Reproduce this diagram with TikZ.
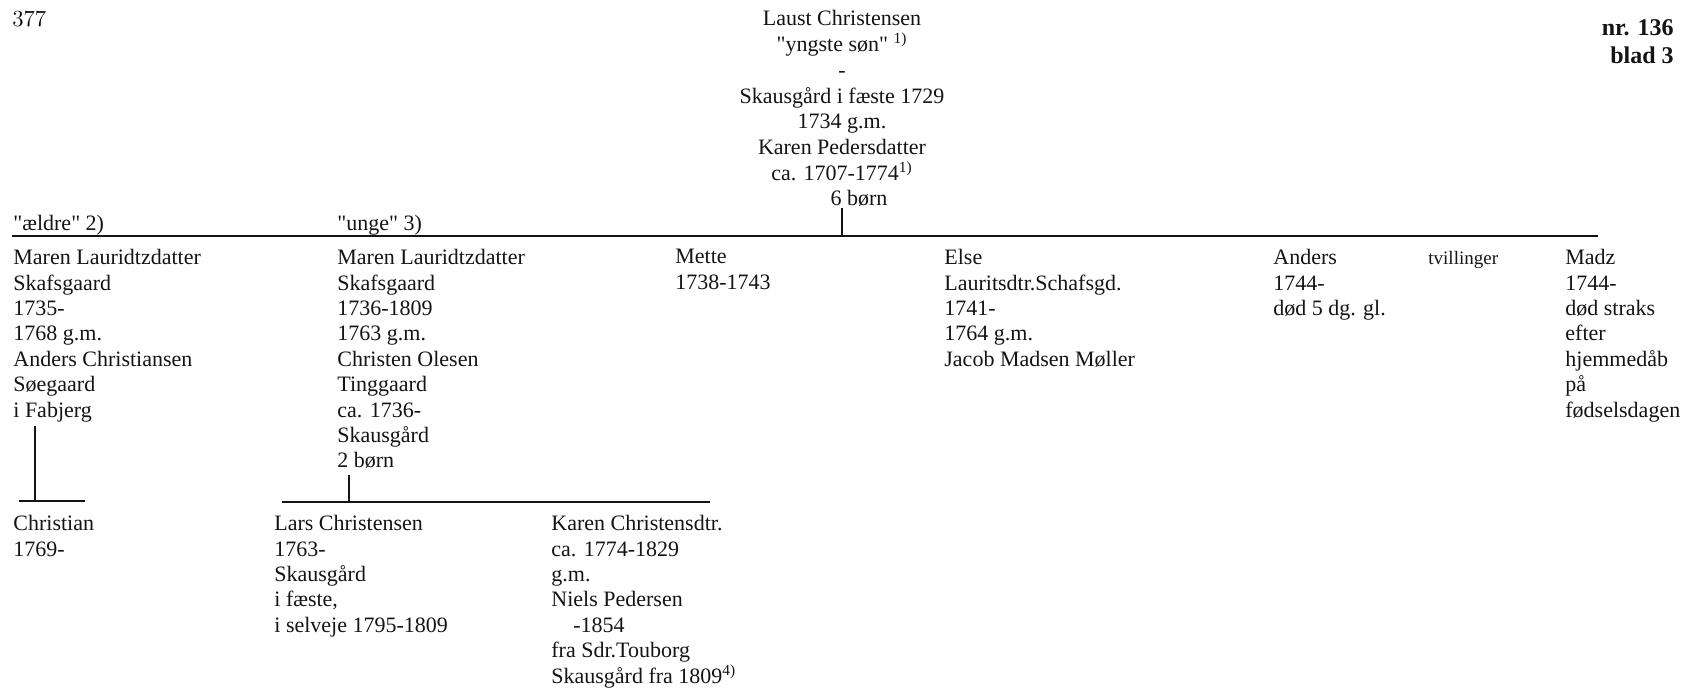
\documentclass[tikz,border=0pt]{standalone}
\usepackage{fontspec}
\usepackage{tikz}
\usetikzlibrary{calc,positioning}
\newfontfamily\garfont{Liberation Serif}
\definecolor{Ink}{HTML}{141414}
\tikzset{person/.style={anchor=north west,align=left,inner sep=0pt,text=Ink,font=\garfont\fontsize{11}{12.7}\selectfont},parents/.style={person,anchor=north,align=center,font=\garfont\fontsize{11}{12.9}\selectfont},bar/.style={draw=Ink,line width=.8pt},stemline/.style={draw=Ink,line width=.7pt}}

\begin{document}
\begin{tikzpicture}[x=.5pt,y=-.5pt]
        \useasboundingbox(0,0)rectangle(1681,688);
        \node[anchor=west,inner sep=0pt,font=\fontsize{11.5}{13}\selectfont](page)at(12,19){377};
        \node[person,anchor=north east,align=right,font=\garfont\bfseries\fontsize{12}{14.3}\selectfont](sheet)at(1674,19){nr. 136\\blad 3};
        \node[parents](laust)at(842,10){Laust Christensen\\"yngste søn" \textsuperscript{1)}\\-\\Skausgård i fæste 1729\\1734 g.m.\\Karen Pedersdatter\\ca. 1707-1774\textsuperscript{1)}};
        \node[person,anchor=center](count)at(859,198){6 børn};
        \coordinate(barw)at(12,236);
        \coordinate(bare)at(1598,236);
        \draw[bar](barw)--(bare);
        \draw[stemline]([yshift=-1pt]laust.south |- count.south)--(laust.south |- barw);
        \node[person](aeldre)at(13,215){"ældre" 2)};
        \node[person](unge)at(337,215){"unge" 3)};
        \node[person](maren1)at(13,249){Maren Lauridtzdatter\\Skafsgaard\\1735-\\1768 g.m.\\Anders Christiansen\\Søegaard\\i Fabjerg};
        \node[person](maren2)at(337,249){Maren Lauridtzdatter\\Skafsgaard\\1736-1809\\1763 g.m.\\Christen Olesen\\Tinggaard\\ca. 1736-\\Skausgård\\2 børn};
        \node[person](mette)at(675,249){Mette\\1738-1743};
        \node[person](else)at(944,249){Else\\Lauritsdtr.Schafsgd.\\1741-\\1764 g.m.\\Jacob Madsen Møller};
        \node[person](anders)at(1273,249){Anders\\1744-\\død 5 dg. gl.};
        \node[person,font=\garfont\fontsize{9.5}{11}\selectfont](twins)at(1428,251){tvillinger};
        \node[person](madz)at(1565,249){Madz\\1744-\\død straks\\efter\\hjemmedåb\\på\\fødselsdagen};
        \coordinate(forka)at(35,501);
        \coordinate(barAw)at(19,501);
        \coordinate(barAe)at(85,501);
        \draw[stemline]([yshift=-2pt]maren1.south -| forka)--(forka);
        \draw[bar](barAw)--(barAe);
        \node[person](christian)at(13,515){Christian\\1769-};
        \coordinate(forkb)at(349,502);
        \coordinate(barBw)at(282,502);
        \coordinate(barBe)at(710,502);
        \draw[stemline]([yshift=-3pt]maren2.south -| forkb)--(forkb);
        \draw[bar](barBw)--(barBe);
        \node[person](lars)at(274,515){Lars Christensen\\1763-\\Skausgård\\i fæste,\\i selveje 1795-1809};
        \node[person](karen)at(551,515){Karen Christensdtr.\\ca. 1774-1829\\g.m.\\Niels Pedersen\\\hspace*{11pt}-1854\\fra Sdr.Touborg\\Skausgård fra 1809\textsuperscript{4)}};
      \end{tikzpicture}
\end{document}
